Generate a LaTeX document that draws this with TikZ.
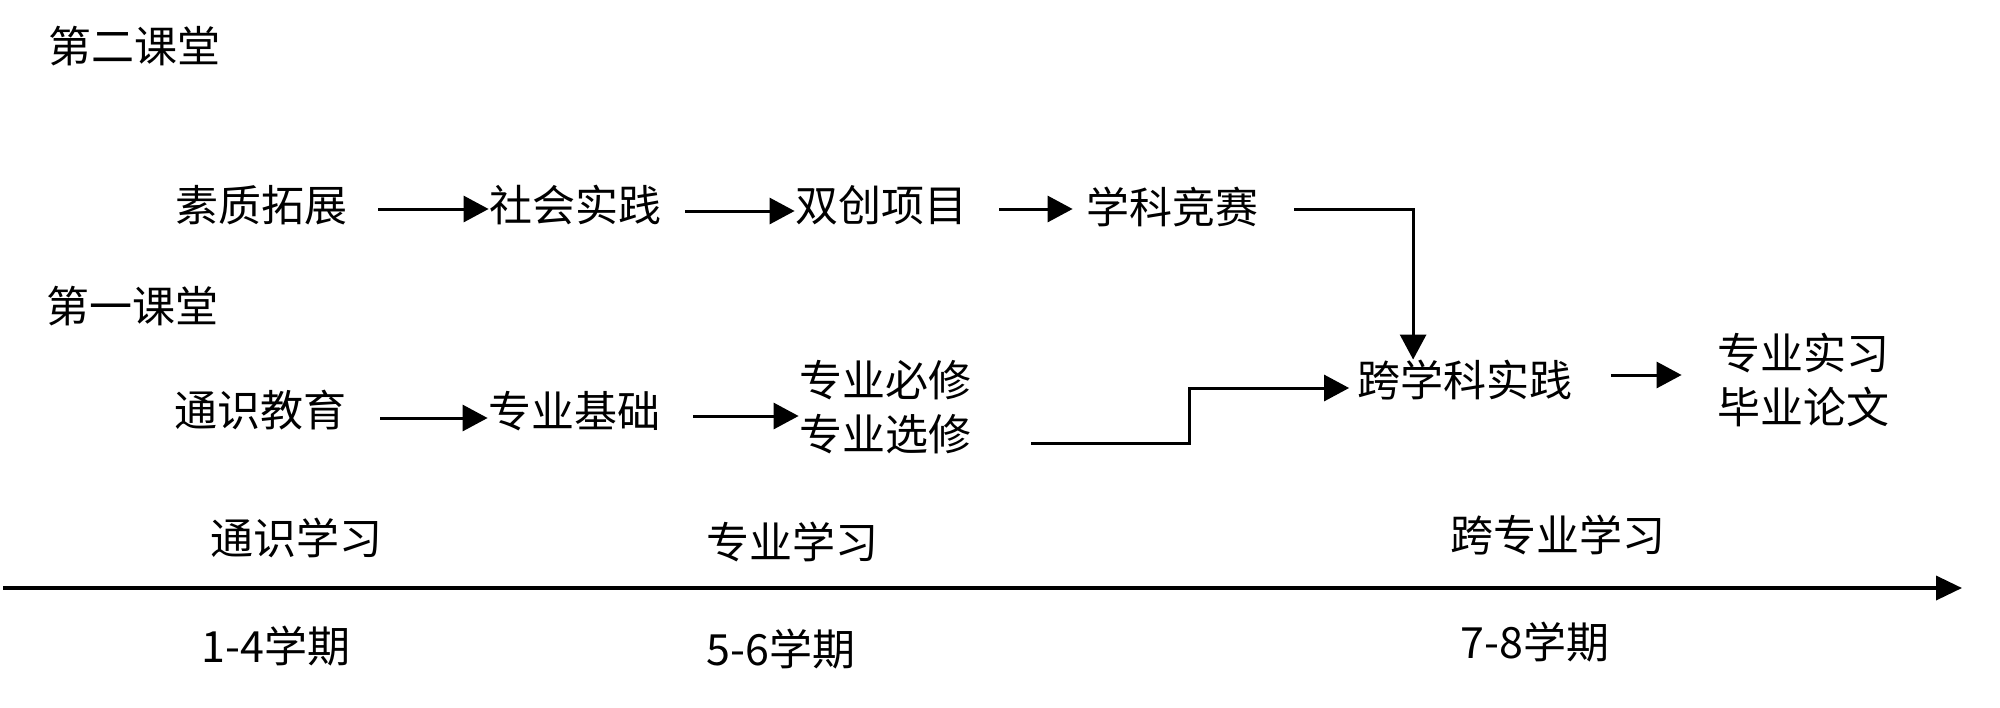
\documentclass[tikz,border=0pt]{standalone}
\usepackage{fontspec}
\newfontfamily\cjk{Noto Sans CJK SC}
\usetikzlibrary{arrows.meta,calc}
\begin{document}
\begin{tikzpicture}[x=0.5pt,y=-0.5pt,
  lbl/.style={inner sep=0pt,font=\cjk\fontsize{21.5pt}{25.5pt}\selectfont,align=center},
  lbltwo/.style={lbl,font=\cjk\fontsize{21.5pt}{27pt}\selectfont},
  arr/.style={line width=1.5pt,-{Triangle[length=12.5pt,width=13pt]}},
  axisline/.style={line width=1.8pt,-{Triangle[length=13pt,width=12pt]}}]
\useasboundingbox (0,0) rectangle (2000,707);
% class headings
\node[lbl] (sec2) at (134,46) {第二课堂};
\node[lbl] (sec1) at (132,306) {第一课堂};
% second classroom row
\node[lbl] (a1) at (261,205) {素质拓展};
\node[lbl] (a2) at (575,205) {社会实践};
\node[lbl] (a3) at (881,205) {双创项目};
\node[lbl] (a4) at (1172,207) {学科竞赛};
% first classroom row
\node[lbl] (b1) at (260,410) {通识教育};
\node[lbl] (b2) at (574,411) {专业基础};
\node[lbltwo] (b3) at (885,407) {专业必修\\专业选修};
\node[lbl] (c) at (1465,380) {跨学科实践};
\node[lbltwo] (d) at (1803,380) {专业实习\\毕业论文};
% phases
\node[lbl] (p1) at (296,538) {通识学习};
\node[lbl] (p2) at (792,542) {专业学习};
\node[lbl] (p3) at (1558,535) {跨专业学习};
\node[lbl] (t1) at (276,646) {1-4学期};
\node[lbl] (t2) at (781,649) {5-6学期};
\node[lbl] (t3) at (1535,642) {7-8学期};
% axis
\coordinate (ax0) at (3,588);
\coordinate (ax1) at (1962,588);
\draw[axisline] (ax0) -- (ax1);
% connectors, upper row
\draw[arr] ($(a1.east)+(31,4)$) -- ($(a2.west)+(0,4)$);
\draw[arr] ($(a2.east)+(24,6)$) -- ($(a3.west)+(0,6)$);
\draw[arr] ($(a3.east)+(32,4)$) -- ($(a4.west)+(-13,2)$);
\draw[arr] ($(a4.east)+(36,2)$) -| ($(c.north west)+(56,0)$);
% connectors, lower row
\draw[arr] ($(b1.east)+(34,8)$) -- ($(b2.west)+(0,7)$);
\draw[arr] ($(b2.east)+(33,5)$) -- ($(b3.west)+(0,9)$);
\coordinate (s3) at ($(b3.east)+(60,36)$);
\draw[arr] (s3) -- ++(158,0) |- ($(c.west)+(-8,8)$);
\draw[arr] ($(c.east)+(38,-5)$) -- ($(d.west)+(-35,-5)$);
\end{tikzpicture}
\end{document}
